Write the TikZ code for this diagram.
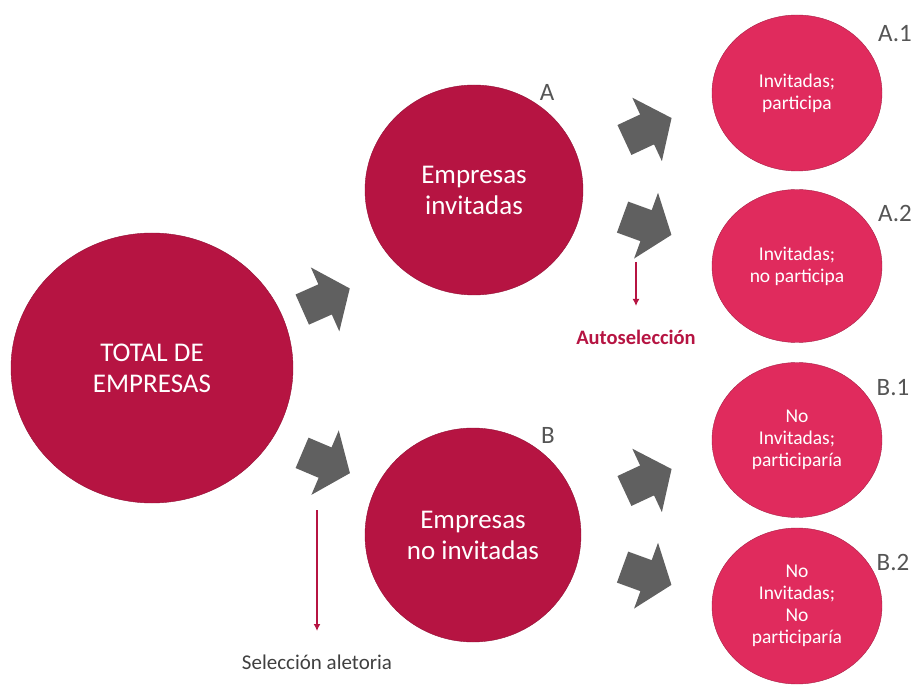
\documentclass[tikz,border=0pt]{standalone}
\usepackage{fontspec}
\setmainfont{Carlito}
\usetikzlibrary{shapes.geometric,arrows.meta}

\definecolor{granate}{RGB}{182,20,66}
\definecolor{rosa}{RGB}{224,43,93}
\definecolor{gris}{RGB}{96,96,96}
\definecolor{grislet}{RGB}{85,85,85}

\begin{document}
\begin{tikzpicture}[x=1pt,y=-1pt,
	grande/.style={ellipse,fill=granate,draw=granate!80!black,line width=0.4pt,inner sep=0pt,text=white,align=center,font=\fontsize{27}{31}\selectfont},
	chico/.style={ellipse,fill=rosa,draw=rosa!75!black,line width=0.4pt,inner sep=0pt,minimum width=170,text=white,align=center,font=\fontsize{19.5}{22}\selectfont},
	letra/.style={text=grislet,font=\fontsize{25}{28}\selectfont},
	roja/.style={draw=granate,line width=1.6pt,-{Latex[length=7pt,width=7pt]}},
	flecha/.pic={\fill[gris] (-26,-16.5) -- (-1,-16.5) -- (-1,-35) -- (26,0) -- (-1,35) -- (-1,16.5) -- (-26,16.5) -- cycle;}]
	\useasboundingbox (0,0) rectangle (914,687);
	% circulos
	\node[grande,minimum width=282,minimum height=270] (total) at (152,368) {TOTAL DE\\EMPRESAS};
	\node[grande,minimum width=218,minimum height=210] (inv) at (474,190) {Empresas\\invitadas};
	\node[grande,minimum width=216,minimum height=214] (noinv) at (473,535) {Empresas\\no invitadas};
	\node[chico,minimum height=156] (a1) at (797,93) {Invitadas;\\participa};
	\node[chico,minimum height=153] (a2) at (797,266) {Invitadas;\\no participa};
	\node[chico,minimum height=155] (b1) at (797,440) {No\\Invitadas;\\participaría};
	\node[chico,minimum height=156] (b2) at (797,606) {No\\Invitadas;\\No\\participaría};
	% letras
	\node[letra] (la) at (547,92) {A};
	\node[letra] (lb) at (548,435) {B};
	\node[letra] (la1) at (895,34) {A.1};
	\node[letra] (la2) at (895,213) {A.2};
	\node[letra] (lb1) at (893,388) {B.1};
	\node[letra] (lb2) at (893,562) {B.2};
	% flechas grises
	\pic[rotate=24] at (326,299) {flecha};
	\pic[rotate=-23] at (326,463) {flecha};
	\pic[rotate=25] at (648,129) {flecha};
	\pic[rotate=-20] at (647,226) {flecha};
	\pic[rotate=25] at (648,480) {flecha};
	\pic[rotate=-20] at (647,576) {flecha};
	% seleccion
	\coordinate (autoA) at (636,262);
	\coordinate (autoB) at (636,306);
	\draw[roja] (autoA) -- (autoB);
	\node[text=granate,font=\bfseries\fontsize{20.5}{24}\selectfont] (auto) at (636,337) {Autoselección};
	\coordinate (alA) at (317,510);
	\coordinate (alB) at (317,631);
	\draw[roja] (alA) -- (alB);
	\node[text=black!75,font=\fontsize{21}{25}\selectfont] (aleat) at (317,662) {Selección aletoria};
\end{tikzpicture}
\end{document}
